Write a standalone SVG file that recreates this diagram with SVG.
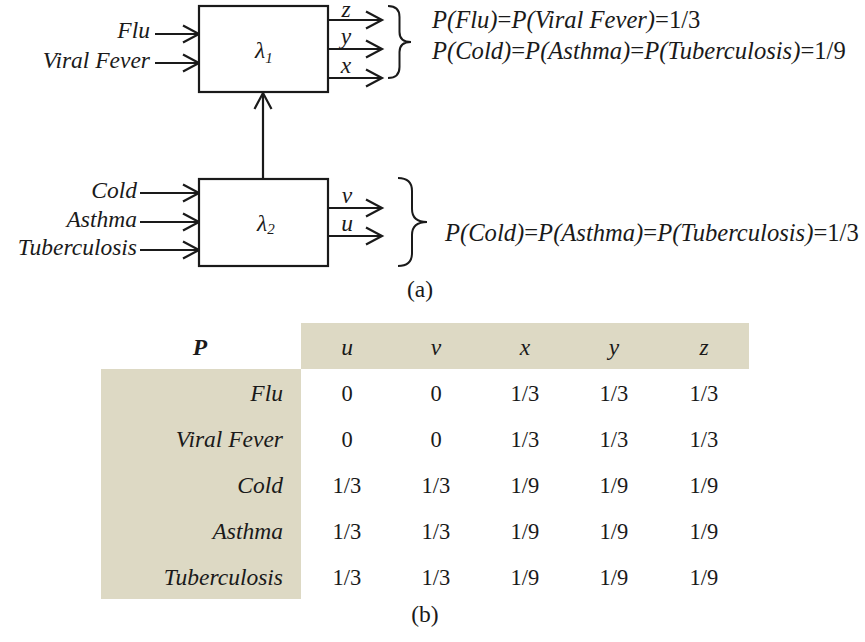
<svg xmlns="http://www.w3.org/2000/svg" width="865" height="642" viewBox="0 0 865 642" font-family="'Liberation Serif', 'Times New Roman', serif">
<style>
text{fill:#1a1a1a;font-family:"Liberation Serif","Times New Roman",serif}
.it{font-style:italic;font-size:23.5px}
.eq{font-style:italic;font-size:24.6px}
.up{font-style:normal}
.num{font-size:22.5px;text-anchor:middle}
.hd{font-style:italic;font-size:23.5px;text-anchor:middle}
.rl{font-style:italic;font-size:23.5px;text-anchor:end}
.box{fill:#fff;stroke:#1a1a1a;stroke-width:2.2}
.ln{stroke:#1a1a1a;stroke-width:2.2;fill:none}
.br{stroke:#1a1a1a;stroke-width:2;fill:none}
.bg{fill:#DDD9C4}
</style>
<defs>
<marker id="ah" markerUnits="userSpaceOnUse" markerWidth="20" markerHeight="20" refX="17" refY="10" orient="auto">
<path d="M1,1.5 L17,10 L1,18.5" fill="none" stroke="#1a1a1a" stroke-width="2.2"/>
</marker>
</defs>

<g id="connectors">
<line class="ln" x1="155" y1="34" x2="199" y2="34" marker-end="url(#ah)"/>
<line class="ln" x1="155" y1="63" x2="199" y2="63" marker-end="url(#ah)"/>
<line class="ln" x1="327" y1="20" x2="382" y2="20" marker-end="url(#ah)"/>
<line class="ln" x1="327" y1="49" x2="382" y2="49" marker-end="url(#ah)"/>
<line class="ln" x1="327" y1="78" x2="382" y2="78" marker-end="url(#ah)"/>
<line class="ln" x1="263" y1="179" x2="263" y2="93" marker-end="url(#ah)"/>
<line class="ln" x1="140" y1="193" x2="199" y2="193" marker-end="url(#ah)"/>
<line class="ln" x1="140" y1="222" x2="199" y2="222" marker-end="url(#ah)"/>
<line class="ln" x1="140" y1="250" x2="199" y2="250" marker-end="url(#ah)"/>
<line class="ln" x1="327" y1="208" x2="382" y2="208" marker-end="url(#ah)"/>
<line class="ln" x1="327" y1="236" x2="382" y2="236" marker-end="url(#ah)"/>
</g>

<g id="lambda1">
<rect class="box" x="199" y="6" width="129" height="86"/>
<text x="255" y="58" class="it">λ<tspan font-size="15" dy="5">1</tspan></text>
</g>
<g id="lambda2">
<rect class="box" x="199" y="179" width="129" height="87"/>
<text x="257" y="231" class="it">λ<tspan font-size="15" dy="3">2</tspan></text>
</g>

<g id="inputs">
<text x="150" y="38" class="it" text-anchor="end">Flu</text>
<text x="150" y="68" class="it" text-anchor="end">Viral Fever</text>
<text x="137" y="198" class="it" text-anchor="end">Cold</text>
<text x="137" y="227" class="it" text-anchor="end">Asthma</text>
<text x="137" y="255" class="it" text-anchor="end">Tuberculosis</text>
</g>

<g id="outputs">
<text x="346" y="17" class="it" text-anchor="middle">z</text>
<text x="346" y="44" class="it" text-anchor="middle">y</text>
<text x="346" y="73" class="it" text-anchor="middle">x</text>
<text x="347" y="203" class="it" text-anchor="middle">v</text>
<text x="347" y="231" class="it" text-anchor="middle">u</text>
</g>

<g id="brace1">
<path class="br" d="M388,6 Q399.5,6 399.5,17 L399.5,32 Q399.5,42 411,42 Q399.5,42 399.5,52 L399.5,67 Q399.5,78 388,78"/>
<text x="432" y="28" class="eq">P(Flu)<tspan class="up">=</tspan>P(Viral Fever)<tspan class="up">=1/3</tspan></text>
<text x="432" y="59" class="eq">P(Cold)<tspan class="up">=</tspan>P(Asthma)<tspan class="up">=</tspan>P(Tuberculosis)<tspan class="up">=1/9</tspan></text>
</g>

<g id="brace2">
<path class="br" d="M398,178 Q412,178 412,191 L412,209 Q412,222 427,222 Q412,222 412,235 L412,253 Q412,266 398,266"/>
<text x="445" y="241" class="eq">P(Cold)<tspan class="up">=</tspan>P(Asthma)<tspan class="up">=</tspan>P(Tuberculosis)<tspan class="up">=1/3</tspan></text>
</g>

<text x="407" y="297" style="font-size:23.5px">(a)</text>

<g id="table">
<rect class="bg" x="301" y="323" width="448" height="46"/>
<rect class="bg" x="101" y="369" width="200" height="230"/>
<text x="200" y="355" class="hd" font-weight="bold">P</text>
<text x="347" y="355" class="hd">u</text>
<text x="436" y="355" class="hd">v</text>
<text x="525" y="355" class="hd">x</text>
<text x="614" y="355" class="hd">y</text>
<text x="704" y="355" class="hd">z</text>

<text x="283" y="401" class="rl">Flu</text>
<text x="283" y="447" class="rl">Viral Fever</text>
<text x="283" y="493" class="rl">Cold</text>
<text x="283" y="539" class="rl">Asthma</text>
<text x="283" y="585" class="rl">Tuberculosis</text>

<text x="347" y="401" class="num">0</text><text x="436" y="401" class="num">0</text><text x="525" y="401" class="num">1/3</text><text x="614" y="401" class="num">1/3</text><text x="704" y="401" class="num">1/3</text>
<text x="347" y="447" class="num">0</text><text x="436" y="447" class="num">0</text><text x="525" y="447" class="num">1/3</text><text x="614" y="447" class="num">1/3</text><text x="704" y="447" class="num">1/3</text>
<text x="347" y="493" class="num">1/3</text><text x="436" y="493" class="num">1/3</text><text x="525" y="493" class="num">1/9</text><text x="614" y="493" class="num">1/9</text><text x="704" y="493" class="num">1/9</text>
<text x="347" y="539" class="num">1/3</text><text x="436" y="539" class="num">1/3</text><text x="525" y="539" class="num">1/9</text><text x="614" y="539" class="num">1/9</text><text x="704" y="539" class="num">1/9</text>
<text x="347" y="585" class="num">1/3</text><text x="436" y="585" class="num">1/3</text><text x="525" y="585" class="num">1/9</text><text x="614" y="585" class="num">1/9</text><text x="704" y="585" class="num">1/9</text>
</g>

<text x="425" y="622" style="font-size:23.5px" text-anchor="middle">(b)</text>
</svg>
